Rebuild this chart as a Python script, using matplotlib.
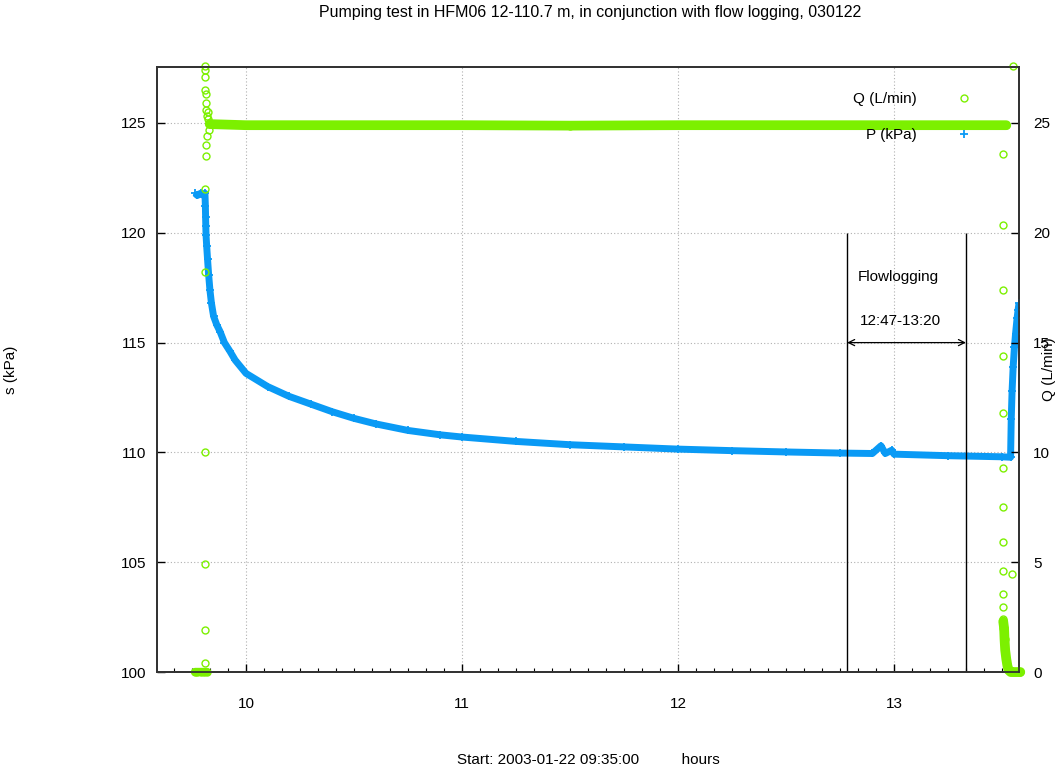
import numpy as np
import matplotlib.pyplot as plt
from matplotlib.ticker import MultipleLocator

plt.rcParams["font.family"] = ["Liberation Sans", "DejaVu Sans"]
plt.rcParams["font.size"] = 11

# Pressure P (kPa), time in hours.
p_time = [9.764, 9.775, 9.790, 9.805, 9.810, 9.812, 9.813, 9.814, 9.815, 9.818,
          9.822, 9.827, 9.833, 9.840, 9.850, 9.865, 9.880, 9.900, 9.926, 9.950,
          10.00, 10.10, 10.20, 10.30, 10.40, 10.50, 10.60, 10.75, 10.90, 11.00,
          11.25, 11.50, 11.75, 12.00, 12.25, 12.50, 12.75, 12.90, 12.94, 12.96,
          12.99, 13.00, 13.25, 13.50, 13.540, 13.543, 13.547, 13.552, 13.558, 13.563,
          13.570, 13.575, 13.579]
p_value = [121.8, 121.7, 121.8, 121.7, 121.8, 121.2, 120.7, 120.3, 119.9, 119.4,
           118.8, 118.1, 117.4, 116.8, 116.2, 115.8, 115.5, 115.0, 114.6, 114.2,
           113.6, 113.0, 112.55, 112.2, 111.85, 111.55, 111.3, 111.0, 110.8, 110.7,
           110.5, 110.35, 110.25, 110.15, 110.08, 110.02, 109.97, 109.95, 110.3, 109.95,
           110.1, 109.92, 109.85, 109.8, 109.78, 111.5, 112.8, 113.9, 114.8, 115.4,
           116.1, 116.5, 116.8]

# Flow Q (L/min): start-up, steady pumping and stop.
q_start_time = [9.764, 9.775, 9.790, 9.805, 9.818, 9.812, 9.812, 9.812, 9.812, 9.812,
                9.812, 9.812, 9.812, 9.812, 9.812, 9.813, 9.813, 9.814, 9.815, 9.816,
                9.818, 9.820, 9.822, 9.825, 9.828, 9.832]
q_start_value = [0.0, 0.0, 0.0, 0.0, 0.0, 0.4, 1.9, 4.9, 10.0, 18.2,
                 22.0, 27.6, 27.4, 27.1, 26.5, 26.3, 25.9, 23.5, 24.0, 25.6,
                 25.3, 24.4, 25.5, 25.2, 24.7, 25.0]
q_band_time = [9.832, 10.0, 10.5, 11.0, 11.5, 12.0, 12.5, 13.0, 13.5, 13.52]
q_band_value = [24.95, 24.9, 24.9, 24.9, 24.88, 24.9, 24.9, 24.9, 24.9, 24.9]
q_stop_time = [13.505, 13.505, 13.505, 13.505, 13.505, 13.505, 13.505, 13.505, 13.505, 13.505,
               13.505, 13.505, 13.505, 13.545, 13.551]
q_stop_value = [23.6, 20.35, 17.4, 14.4, 11.8, 9.3, 7.5, 5.9, 4.6, 3.55,
                2.95, 2.4, 2.0, 4.45, 27.6]
q_tail_time = [13.506, 13.510, 13.512, 13.515, 13.520, 13.525, 13.530, 13.540, 13.550,
               13.560, 13.570, 13.580, 13.585]
q_tail_value = [2.3, 2.0, 1.5, 1.0, 0.6, 0.3, 0.1, 0.0, 0.0,
                0.0, 0.0, 0.0, 0.0]

# Flow logging period.
flowlog_start = 12 + 47 / 60
flowlog_end = 13 + 20 / 60

green = "#7cf000"
blue = "#0a9af5"
frame = "#333333"

fig = plt.figure(figsize=(10.55, 7.73), dpi=100)
ax = fig.add_axes([157 / 1055, 1 - 672 / 773, 862 / 1055, 605 / 773])
ax2 = ax.twinx()

# Pressure on the left axis.
ax.plot(p_time, p_value, color=blue, lw=5, solid_capstyle="butt", zorder=3)
ax.plot(p_time, p_value, "+", color=blue, ms=6, mew=1.3, zorder=3)
ax.set_xlim(9.588, 13.579)
ax.set_ylim(100, 127.55)
ax.set_ylabel("s (kPa)")
ax.yaxis.set_label_coords(-0.161, 0.5)

# Flow on the right axis.
ax2.plot(q_band_time, q_band_value, color=green, lw=7, solid_capstyle="round")
ax2.plot(q_band_time, q_band_value, "o", color=green, mfc="none", ms=5, mew=1)
ax2.plot(q_start_time, q_start_value, "o", color=green, mfc="none", ms=5, mew=1, clip_on=False)
ax2.plot(q_stop_time, q_stop_value, "o", color=green, mfc="none", ms=5, mew=1, clip_on=False)
ax2.plot(q_tail_time, q_tail_value, color=green, lw=7, solid_capstyle="round", clip_on=False)
ax2.plot(q_tail_time, q_tail_value, "o", color=green, mfc="none", ms=5, mew=1, clip_on=False)
ax2.plot(q_start_time[:5], q_start_value[:5], color=green, lw=6, solid_capstyle="round", clip_on=False)
ax2.set_ylim(0, 27.55)
ax2.set_ylabel("Q (L/min)", rotation=90)
ax2.yaxis.set_label_coords(1.027, 0.5)

# Legend entries, drawn with the marker after the text.
ax2.plot([], [], "o", color=green, mfc="none", ms=5, mew=1, label="Q (L/min)")
ax2.plot([], [], "+", color=blue, ms=6, mew=1.3, label="P (kPa)")
ax2.legend(loc="upper right", bbox_to_anchor=(0.961, 0.968), frameon=False,
           markerfirst=False, handlelength=2, handletextpad=2.1, labelspacing=1.4,
           borderpad=0.4, borderaxespad=0)

# Flow logging markers.
ax.vlines([flowlog_start, flowlog_end], 100, 120, color="black", lw=1, zorder=4)
ax.annotate("", xy=(flowlog_start, 115), xytext=(flowlog_end, 115),
            arrowprops=dict(arrowstyle="<->", color="black", lw=0.9, shrinkA=0, shrinkB=0),
            zorder=4)
ax.text(13.018, 118.0, "Flowlogging", ha="center", va="center", zorder=4)
ax.text(13.03, 116.0, "12:47-13:20", ha="center", va="center", zorder=4)

# Ticks and grid.
ax.xaxis.set_major_locator(MultipleLocator(1))
ax.xaxis.set_minor_locator(MultipleLocator(1 / 12))
ax.yaxis.set_major_locator(MultipleLocator(5))
ax2.yaxis.set_major_locator(MultipleLocator(5))
ax.tick_params(axis="x", which="major", direction="in", length=6, width=1, pad=18,
               top=False, colors="black")
ax.tick_params(axis="x", which="minor", direction="in", length=3, width=0.8, top=False)
ax.tick_params(axis="y", direction="in", length=6, width=1, pad=8, right=False)
ax2.tick_params(axis="y", direction="in", length=6, width=1, pad=10)
ax.grid(True, which="major", color="#b0b0b0", linestyle=(0, (1, 2)), lw=0.8)
ax.set_axisbelow(True)

for a in (ax, ax2):
    for spine in a.spines.values():
        spine.set_color(frame)
        spine.set_linewidth(1.3)

fig.text(590 / 1055, 1 - 13 / 773,
         "Pumping test in HFM06 12-110.7 m, in conjunction with flow logging, 030122",
         ha="center", va="center", fontsize=11.5)
fig.text(588 / 1055, 1 - 760 / 773, "Start: 2003-01-22 09:35:00          hours",
         ha="center", va="center")

fig.savefig("out.png", dpi=100)
